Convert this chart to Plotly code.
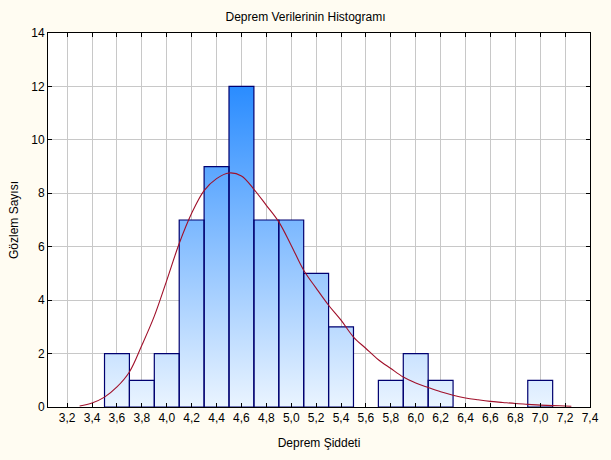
import plotly.graph_objects as go

# Histogram data (bin centers and counts)
bin_centers = [3.6, 3.8, 4.0, 4.2, 4.4, 4.6, 4.8, 5.0, 5.2, 5.4, 5.6, 5.8, 6.0, 6.2, 6.4, 6.6, 6.8, 7.0]
counts      = [2,   1,   2,   7,   9,   12,  7,   7,   5,   3,   0,   1,   2,   1,   0,   0,   0,   1]
bin_width = 0.2

# Fitted curve
curve_x = [3.3, 3.4, 3.5, 3.6, 3.7, 3.8, 3.9, 4.0, 4.1, 4.2, 4.3, 4.4, 4.5, 4.6, 4.7, 4.8, 4.9,
           5.0, 5.1, 5.2, 5.3, 5.4, 5.5, 5.6, 5.7, 5.8, 5.9, 6.0, 6.1, 6.2, 6.3, 6.4, 6.5, 6.6,
           6.7, 6.8, 6.9, 7.0, 7.1, 7.2, 7.25]
curve_y = [0.04, 0.15, 0.37, 0.75, 1.31, 2.31, 3.40, 4.74, 6.12, 7.25, 8.10, 8.55, 8.76, 8.65,
           8.15, 7.55, 6.93, 6.05, 5.12, 4.45, 3.81, 3.25, 2.62, 2.19, 1.77, 1.44, 1.12, 0.90,
           0.73, 0.57, 0.44, 0.34, 0.27, 0.21, 0.17, 0.13, 0.10, 0.07, 0.05, 0.04, 0.03]

x_tick_vals = [3.2, 3.4, 3.6, 3.8, 4.0, 4.2, 4.4, 4.6, 4.8, 5.0, 5.2, 5.4, 5.6, 5.8, 6.0,
               6.2, 6.4, 6.6, 6.8, 7.0, 7.2, 7.4]
x_tick_text = ["3,2", "3,4", "3,6", "3,8", "4,0", "4,2", "4,4", "4,6", "4,8", "5,0", "5,2",
               "5,4", "5,6", "5,8", "6,0", "6,2", "6,4", "6,6", "6,8", "7,0", "7,2", "7,4"]
y_tick_vals = [0, 2, 4, 6, 8, 10, 12, 14]

# Step outline for gradient fill, built from the bins
step_x, step_y = [], []
for c, n in zip(bin_centers, counts):
    step_x.append(c - bin_width / 2)
    step_y.append(n)
step_x.append(bin_centers[-1] + bin_width / 2)
step_y.append(counts[-1])
step_x = [step_x[0]] + step_x
step_y = [0] + step_y
step_x.append(step_x[-1])
step_y.append(0)

# Rectangle outlines for each non-empty bin
rect_x, rect_y = [], []
for c, n in zip(bin_centers, counts):
    if n <= 0:
        continue
    l, r = c - bin_width / 2, c + bin_width / 2
    rect_x += [l, l, r, r, l, None]
    rect_y += [0, n, n, 0, 0, None]

fig = go.Figure()

fig.add_trace(go.Scatter(
    x=step_x, y=step_y, mode="lines", line=dict(shape="hv", width=0, color="rgba(0,0,0,0)"),
    fill="tozeroy",
    fillgradient=dict(type="vertical",
                      colorscale=[[0, "#EAF4FF"], [1, "#2A8CFF"]],
                      start=0, stop=max(counts)),
    hoverinfo="skip", showlegend=False,
))

fig.add_trace(go.Scatter(
    x=rect_x, y=rect_y, mode="lines",
    line=dict(color="#000070", width=1.2),
    hoverinfo="skip", showlegend=False,
))

fig.add_trace(go.Scatter(
    x=curve_x, y=curve_y, mode="lines",
    line=dict(color="#A0102A", width=1.1, shape="spline"),
    showlegend=False,
))

font_family = "Liberation Sans, Arial, sans-serif"
fig.update_layout(
    width=611, height=460,
    margin=dict(l=48, r=19, t=33, b=53),
    paper_bgcolor="#FFFCF2",
    plot_bgcolor="#FFFFFF",
    font=dict(family=font_family, size=12, color="#000000"),
    title=dict(text="Deprem Verilerinin Histogramı", x=0.5, xanchor="center",
               y=1 - 17 / 460, yanchor="middle", font=dict(size=12)),
)
fig.update_xaxes(
    range=[3.046, 7.4], tickvals=x_tick_vals, ticktext=x_tick_text,
    showgrid=True, gridcolor="#C8C8C8", gridwidth=1,
    showline=True, linecolor="#000000", linewidth=1, mirror="ticks",
    ticks="inside", ticklen=4, tickcolor="#000000",
    zeroline=False,
    title=dict(text="Deprem Şiddeti", standoff=14, font=dict(size=12)),
)
fig.update_yaxes(
    range=[0, 14], tickvals=y_tick_vals,
    showgrid=True, gridcolor="#C8C8C8", gridwidth=1,
    showline=True, linecolor="#000000", linewidth=1, mirror="ticks",
    ticks="inside", ticklen=4, tickcolor="#000000",
    zeroline=False,
    title=dict(text="Gözlem Sayısı", standoff=10, font=dict(size=12)),
)

fig.write_html("out.html")
